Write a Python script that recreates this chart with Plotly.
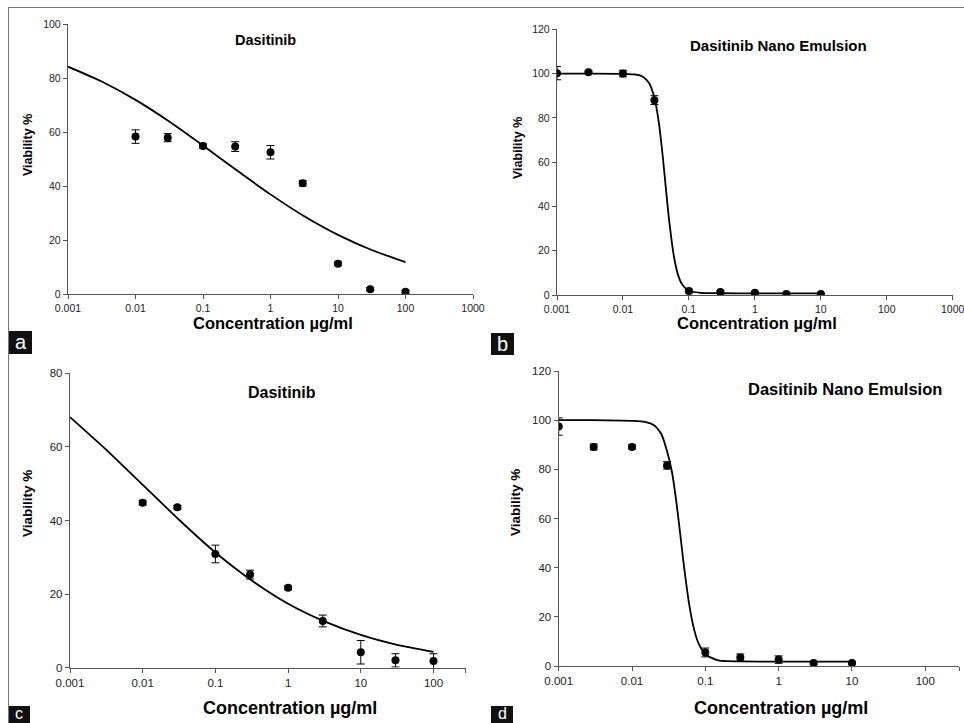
import plotly.graph_objects as go

W, H = 964, 723

# ---------------- data ----------------
conc_a = [0.01, 0.03, 0.1, 0.3, 1, 3, 10, 30, 100]
via_a = [58.3, 57.9, 54.8, 54.6, 52.5, 41.0, 11.2, 1.8, 0.8]
err_a = [2.5, 1.5, 0.8, 1.8, 2.5, 1.0, 0.7, 0.6, 0.5]
fit_x_a = [0.001, 0.00316, 0.01, 0.0316, 0.1, 0.316, 1, 3.16, 10, 31.6, 100]
fit_y_a = [84.2, 78.7, 71.9, 63.9, 55.0, 45.8, 36.9, 28.8, 21.9, 16.3, 11.8]

conc_b = [0.001, 0.003, 0.01, 0.03, 0.1, 0.3, 1, 3, 10]
via_b = [100.2, 100.6, 100.0, 88.0, 1.8, 1.3, 1.0, 0.4, 0.4]
err_b = [3.0, 0.5, 1.5, 2.0, 0.8, 0.5, 0.5, 0.4, 0.4]
fit_x_b = [0.001, 0.003, 0.01, 0.015, 0.02, 0.025, 0.03, 0.035, 0.04, 0.045,
           0.05, 0.06, 0.07, 0.08, 0.1, 0.15, 0.3, 1, 3, 10]
fit_y_b = [100, 100, 99.9, 99.6, 98.6, 95.6, 89, 78, 63, 47.5,
           34, 16.5, 8.2, 4.5, 1.9, 1.0, 0.8, 0.7, 0.7, 0.7]

conc_c = [0.01, 0.03, 0.1, 0.3, 1, 3, 10, 30, 100]
via_c = [44.8, 43.6, 30.9, 25.3, 21.7, 12.7, 4.2, 2.0, 1.8]
err_c = [0.6, 0.5, 2.4, 1.2, 0.5, 1.6, 3.2, 1.8, 2.0]
fit_x_c = [0.001, 0.00316, 0.01, 0.0316, 0.1, 0.316, 1, 3.16, 10, 31.6, 100]
fit_y_c = [68.1, 59.2, 49.7, 40.2, 31.3, 23.7, 17.4, 12.6, 8.9, 6.2, 4.3]

conc_d = [0.001, 0.003, 0.01, 0.03, 0.1, 0.3, 1, 3, 10]
via_d = [97.4, 89.1, 89.1, 81.6, 5.5, 3.5, 2.6, 1.2, 1.2]
err_d = [3.5, 1.2, 0.8, 1.5, 1.8, 1.4, 1.5, 0.5, 0.5]
fit_x_d = [0.001, 0.003, 0.01, 0.015, 0.02, 0.025, 0.03, 0.035, 0.04, 0.045,
           0.05, 0.06, 0.07, 0.08, 0.1, 0.15, 0.2, 0.3, 1, 3, 10]
fit_y_d = [100, 100, 99.7, 99.3, 97.9, 94.5, 87.5, 79, 67.4, 54.8,
           43, 25.4, 15.1, 9.5, 4.7, 2.3, 1.95, 1.85, 1.8, 1.8, 1.8]

x_tick_vals = [0.001, 0.01, 0.1, 1, 10, 100, 1000]
x_tick_text = ["0.001", "0.01", "0.1", "1", "10", "100", "1000"]

titles = ["Dasitinib", "Dasitinib Nano Emulsion", "Dasitinib", "Dasitinib Nano Emulsion"]
panel_letters = ["a", "b", "c", "d"]
x_title = "Concentration µg/ml"
y_title = "Viability %"

# ---------------- layout helpers ----------------
def px(x):
    return x / W

def py(y):
    return 1 - y / H

FONT = "Liberation Sans, Arial, sans-serif"
AX = "#555555"

panels = [
    dict(xd=(68, 473), yd=(24, 294), xr=(-3, 3), ymax=100, dt=20,
         tp=(265, 40), ts=14.5, xp=(273, 323), xs=16.5, yp=(28, 145), ys=12.5, tk=10.5,
         box=(9, 331, 32, 354), lt=(342, 20), data=(conc_a, via_a, err_a, fit_x_a, fit_y_a),
         endtick=None),
    dict(xd=(557, 952.7), yd=(29.3, 295), xr=(-3, 3), ymax=120, dt=20,
         tp=(778, 45), ts=15, xp=(757, 323), xs=16.5, yp=(518, 148), ys=12.5, tk=10.5,
         box=(491, 333, 514, 355), lt=(344, 20), data=(conc_b, via_b, err_b, fit_x_b, fit_y_b),
         endtick=None),
    dict(xd=(70, 465.7), yd=(373.3, 667.7), xr=(-3, 2.443), ymax=80, dt=20,
         tp=(282, 392), ts=16, xp=(290, 708), xs=18, yp=(27, 504), ys=13.5, tk=11.5,
         box=(8, 706, 30, 730), lt=(713, 16), data=(conc_c, via_c, err_c, fit_x_c, fit_y_c),
         endtick=2.443),
    dict(xd=(558.7, 959.3), yd=(371, 666), xr=(-3, 2.464), ymax=120, dt=20,
         tp=(845, 389), ts=16.5, xp=(781, 708), xs=18, yp=(515, 503), ys=13.5, tk=11.5,
         box=(491, 706, 513, 730), lt=(713, 16), data=(conc_d, via_d, err_d, fit_x_d, fit_y_d),
         endtick=2.464),
]

fig = go.Figure()
annotations = []
shapes = []


def label(text, x, y, size, color="black", angle=0):
    return dict(text=text, x=px(x), y=py(y), xref="paper", yref="paper",
                xanchor="center", yanchor="middle", showarrow=False, textangle=angle,
                font=dict(family=FONT, size=size, color=color))


for i, p in enumerate(panels):
    n = i + 1
    xa = "x" if n == 1 else f"x{n}"
    ya = "y" if n == 1 else f"y{n}"
    conc, via, err, fx, fy = p["data"]

    fig.add_trace(go.Scatter(
        x=fx, y=fy, mode="lines", xaxis=xa, yaxis=ya,
        line=dict(color="black", width=1.8, shape="spline", smoothing=0.6),
        showlegend=False, hoverinfo="skip"))
    fig.add_trace(go.Scatter(
        x=conc, y=via, mode="markers", xaxis=xa, yaxis=ya,
        marker=dict(color="black", size=8),
        error_y=dict(type="data", array=err, color="black", thickness=1, width=4),
        showlegend=False))

    tv = list(x_tick_vals)
    tt = list(x_tick_text)
    if p["endtick"] is not None:
        tv = [v for v in tv if v <= 10 ** p["endtick"] * 1.0001] + [10 ** p["endtick"]]
        tt = tt[:len(tv) - 1] + [""]

    xkey = "xaxis" if n == 1 else f"xaxis{n}"
    ykey = "yaxis" if n == 1 else f"yaxis{n}"
    fig.update_layout(**{
        xkey: dict(type="log", domain=[px(p["xd"][0]), px(p["xd"][1])],
                   range=list(p["xr"]), anchor=ya, automargin=False,
                   ticklabeloverflow="allow",
                   tickvals=tv, ticktext=tt, showline=True, linecolor=AX, linewidth=1.4,
                   ticks="outside", ticklen=4, tickcolor=AX, tickwidth=1.2,
                   showgrid=False, zeroline=False,
                   tickfont=dict(family=FONT, size=p["tk"], color="#222")),
        ykey: dict(domain=[py(p["yd"][1]), py(p["yd"][0])],
                   range=[0, p["ymax"]], anchor=xa, dtick=p["dt"], tick0=0, automargin=False,
                   showline=True, linecolor=AX, linewidth=1.4,
                   ticks="outside", ticklen=4, tickcolor=AX, tickwidth=1.2,
                   showgrid=False, zeroline=False,
                   tickfont=dict(family=FONT, size=p["tk"], color="#222")),
    })

    annotations.append(label(f"<b>{titles[i]}</b>", p["tp"][0], p["tp"][1], p["ts"]))
    annotations.append(label(f"<b>{x_title}</b>", p["xp"][0], p["xp"][1], p["xs"]))
    annotations.append(label(f"<b>{y_title}</b>", p["yp"][0], p["yp"][1], p["ys"], angle=-90))

    bx0, by0, bx1, by1 = p["box"]
    shapes.append(dict(type="rect", xref="paper", yref="paper",
                       x0=px(bx0), x1=px(bx1), y0=py(by1), y1=py(by0),
                       fillcolor="#111", line=dict(width=0)))
    annotations.append(label(panel_letters[i], (bx0 + bx1) / 2, p["lt"][0], p["lt"][1],
                             color="white"))

# outer frame lines (top and left)
shapes.append(dict(type="line", xref="paper", yref="paper", x0=px(8), x1=1,
                   y0=py(7.5), y1=py(7.5), line=dict(color="#777", width=1)))
shapes.append(dict(type="line", xref="paper", yref="paper", x0=px(8.5), x1=px(8.5),
                   y0=py(7.5), y1=0, line=dict(color="#777", width=1)))

fig.update_layout(width=W, height=H, autosize=False,
                  margin=dict(l=0, r=0, t=0, b=0, autoexpand=False),
                  paper_bgcolor="white", plot_bgcolor="white",
                  annotations=annotations, shapes=shapes,
                  font=dict(family=FONT))

fig.write_html("out.html", config={"displayModeBar": False},
               post_script="document.body.style.margin='0';document.body.style.padding='0';"
                           "document.body.style.overflow='hidden';")
